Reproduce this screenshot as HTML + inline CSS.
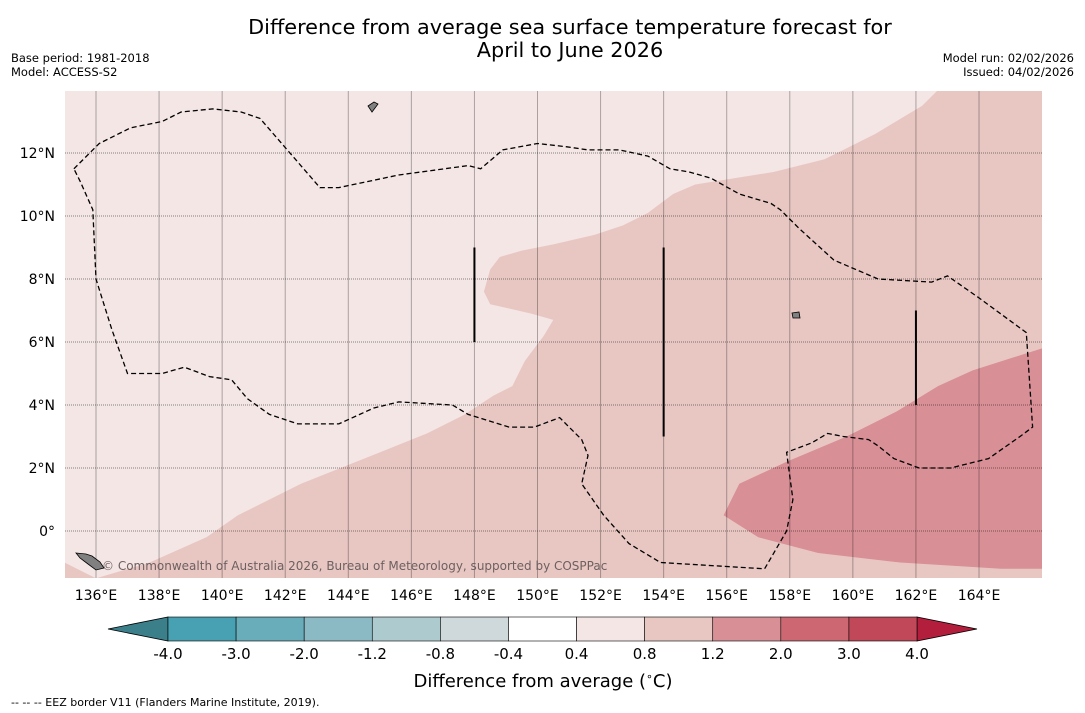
<!DOCTYPE html>
<html><head><meta charset="utf-8">
<style>
body{margin:0;background:#fff;width:1085px;height:713px;overflow:hidden;font-family:"DejaVu Sans","Liberation Sans",sans-serif;}
svg{position:absolute;left:0;top:0;}
</style></head>
<body>
<svg id="c" width="1085" height="713">
<text x="570" y="34" font-size="20.8" text-anchor="middle">Difference from average sea surface temperature forecast for</text>
<text x="570" y="57" font-size="20.8" text-anchor="middle">April to June 2026</text>
<text x="11" y="62" font-size="11.5">Base period: 1981-2018</text>
<text x="11" y="76" font-size="11.5">Model: ACCESS-S2</text>
<text x="1074" y="62" font-size="11.5" text-anchor="end">Model run: 02/02/2026</text>
<text x="1074" y="76" font-size="11.5" text-anchor="end">Issued: 04/02/2026</text>
<text x="11" y="706" font-size="11">--  --  -- EEZ border V11 (Flanders Marine Institute, 2019).</text>
<text x="543" y="687" font-size="18" text-anchor="middle">Difference from average (<tspan font-size="11" dy="-7">∘</tspan><tspan dy="7">C)</tspan></text>
</svg>
<script>
const lonTicks=[136,138,140,142,144,146,148,150,152,154,156,158,160,162,164];
const latTicks=[0,2,4,6,8,10,12];
const cbBounds=[-4.0,-3.0,-2.0,-1.2,-0.8,-0.4,0.4,0.8,1.2,2.0,3.0,4.0];
const cbColors=["#48a1b2","#68adb9","#8bbac5","#adcacf","#cfd8da","#ffffff","#f4e6e5","#e8c7c3","#d88f96","#cd6872","#c04858"];
const mid=[[135,-1],[136,-1.5],[137.7,-1],[139.5,-0.2],[140.5,0.5],[142.5,1.5],[144.5,2.3],[146.5,3.1],[147.7,3.7],[148.6,4.3],[149.2,4.6],[149.6,5.4],[150.2,6.2],[150.5,6.7],[149.8,6.9],[148.5,7.2],[148.3,7.6],[148.5,8.3],[148.8,8.7],[149.5,8.9],[150.5,9.1],[151.8,9.4],[152.7,9.7],[153.5,10.1],[154.3,10.7],[155,11.0],[157.5,11.4],[159.1,11.8],[160.7,12.6],[162.2,13.5],[162.9,14.2],[166,14.2],[166,-1.5],[135,-1.5]];
const hot=[[155.9,0.5],[156.4,1.5],[157.9,2.2],[159.8,3.0],[161.4,3.8],[162.7,4.6],[163.8,5.1],[166,5.8],[166,-1.2],[164.7,-1.2],[161.5,-1.0],[158.9,-0.7],[157,-0.2]];
const eez=[[135.3,11.5],[136.1,12.3],[137.1,12.8],[138.1,13],[138.7,13.3],[139.7,13.4],[140.6,13.3],[141.2,13.1],[143.1,10.9],[143.7,10.9],[145.6,11.3],[147.8,11.6],[148.2,11.5],[148.9,12.1],[150,12.3],[150.9,12.2],[151.6,12.1],[152.6,12.1],[153.5,11.9],[154.2,11.5],[154.8,11.4],[155.5,11.2],[156.4,10.7],[157.4,10.4],[157.7,10.2],[158.3,9.6],[159.4,8.6],[160.8,8.0],[162.5,7.9],[163,8.1],[164,7.4],[165.5,6.3],[165.7,3.3],[165.3,3.0],[164.3,2.3],[163.1,2.0],[162.1,2.0],[161.3,2.3],[160.8,2.7],[160.5,2.9],[159.7,3.0],[159.2,3.1],[158.7,2.8],[157.9,2.5],[158.1,1.0],[157.9,0],[157.2,-1.2],[153.9,-1],[152.9,-0.4],[152.1,0.5],[151.4,1.5],[151.6,2.4],[151.4,2.9],[150.7,3.6],[149.9,3.3],[149.1,3.3],[147.8,3.7],[147.3,4.0],[145.6,4.1],[144.8,3.9],[143.7,3.4],[142.4,3.4],[141.5,3.7],[140.8,4.2],[140.3,4.8],[139.6,4.9],[138.8,5.2],[138.1,5.0],[137,5.0],[136.5,6.4],[136,8.0],[135.9,10.2],[135.5,11.1],[135.3,11.5]];
const cuts=[[148,6,9],[154,3,9],[162,4,7]];
const NS="http://www.w3.org/2000/svg";
const svg=document.getElementById('c');
const X0=65,X1=1042,Y0=91,Y1=578;
const xs=lon=>96+(lon-136)*31.536;
const ys=lat=>531-lat*31.5;
function mk(t,a,p){const e=document.createElementNS(NS,t);for(const k in a)e.setAttribute(k,a[k]);(p||svg).appendChild(e);return e;}
const defs=mk('defs',{});const cp=mk('clipPath',{id:'clip'},defs);mk('rect',{x:X0,y:Y0,width:X1-X0,height:Y1-Y0},cp);
const g=mk('g',{'clip-path':'url(#clip)'});
const bg=mk('rect',{x:X0,y:Y0,width:X1-X0,height:Y1-Y0,fill:cbColors[6]},g);


const pts=a=>a.map(p=>xs(p[0]).toFixed(1)+','+ys(p[1]).toFixed(1)).join(' ');
const m=mk('polygon',{points:pts(mid),fill:cbColors[7]},g);


const h=mk('polygon',{points:pts(hot),fill:cbColors[8]},g);


lonTicks.forEach(l=>{const x=xs(l);
 const ln=mk('line',{x1:x,x2:x,y1:Y0,y2:Y1,stroke:'#000','stroke-opacity':0.3,'stroke-width':1},g);
 
 
 const t=mk('text',{x:x,y:600,'font-size':14,'text-anchor':'middle'});t.textContent=l+'°E';
 
 });
latTicks.forEach(l=>{const y=ys(l);
 const ln=mk('line',{x1:X0,x2:X1,y1:y,y2:y,stroke:'#000','stroke-opacity':0.45,'stroke-width':1,'stroke-dasharray':'1,1'},g);
 
 
 const t=mk('text',{x:55,y:y+5,'font-size':14,'text-anchor':'end'});t.textContent=l===0?'0°':l+'°N';
 
 });
const e=mk('polyline',{points:pts(eez),fill:'none',stroke:'#000','stroke-width':1.3,'stroke-dasharray':'5,3'},g);


cuts.forEach(c=>{const l=mk('line',{x1:xs(c[0]),x2:xs(c[0]),y1:ys(c[1]),y2:ys(c[2]),stroke:'#000','stroke-width':2},g);
 
 });
const isl=mk('path',{d:'M76,553 L86,554 L92,556 L100,562 L104,568 L96,570 L88,564 L80,558 Z M368,106 L374,102 L378,104 L372,112 Z M792,313 L799,312 L800,318 L793,318 Z',fill:'#808080',stroke:'#000','stroke-width':0.8},g);


const cr=mk('text',{x:102,y:570,'font-size':12,fill:'#6d6060'},g);cr.textContent='© Commonwealth of Australia 2026, Bureau of Meteorology, supported by COSPPac';


const CB0=168,CB1=917,CBY=617,CBH=24,w=(CB1-CB0)/cbColors.length;
const la=mk('polygon',{points:`108,${CBY+CBH/2} ${CB0},${CBY} ${CB0},${CBY+CBH}`,fill:'#3a7f8a',stroke:'#000','stroke-width':0.8});


const ra=mk('polygon',{points:`977,${CBY+CBH/2} ${CB1},${CBY} ${CB1},${CBY+CBH}`,fill:'#b21e3c',stroke:'#000','stroke-width':0.8});


cbColors.forEach((c,i)=>{const r=mk('rect',{x:CB0+i*w,y:CBY,width:w,height:CBH,fill:c,stroke:'#000','stroke-width':0.6});
 
 });
cbBounds.forEach((b,i)=>{const t=mk('text',{x:CB0+i*w,y:659,'font-size':15,'text-anchor':'middle'});t.textContent=b.toFixed(1);
 
 });
</script>
</body></html>
